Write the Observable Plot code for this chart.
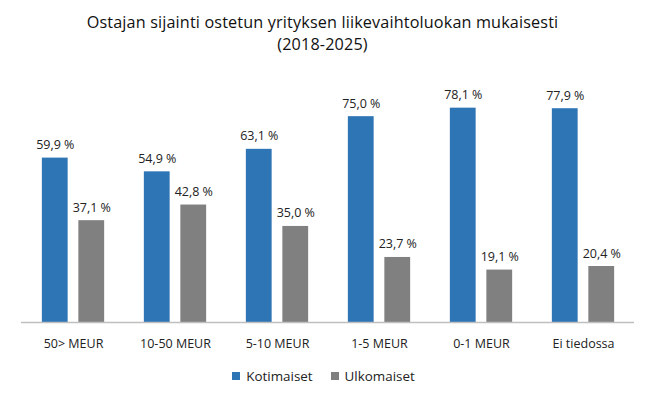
<!DOCTYPE html>
<html><head><meta charset="utf-8">
<script src="https://cdn.jsdelivr.net/npm/d3@7"></script>
<script src="https://cdn.jsdelivr.net/npm/@observablehq/plot@0.6"></script>
<style>
body{margin:0;background:#fff;font-family:"Open Sans",sans-serif;color:#1a1a1a;}
#wrap{width:645px;}
#title{height:60px;box-sizing:border-box;padding-top:11px;text-align:center;font-size:16.2px;line-height:22px;color:#111;letter-spacing:0.15px;}
#legend{display:flex;justify-content:center;gap:18px;font-size:13.4px;color:#222;height:28px;align-items:center;margin-left:2px;}
.sw{display:inline-block;width:8px;height:8px;margin-right:6px;vertical-align:middle;position:relative;top:-1px;}
svg{display:block;}
</style></head><body>
<div id="wrap">
<div id="title">Ostajan sijainti ostetun yrityksen liikevaihtoluokan mukaisesti<br>(2018-2025)</div>
<div id="chart"></div>
<div id="legend"></div>
</div>
<script>
const categories = ["50> MEUR", "10-50 MEUR", "5-10 MEUR", "1-5 MEUR", "0-1 MEUR", "Ei tiedossa"];
const kotimaiset = [59.9, 54.9, 63.1, 75.0, 78.1, 77.9];
const ulkomaiset = [37.1, 42.8, 35.0, 23.7, 19.1, 20.4];
const seriesNames = ["Kotimaiset", "Ulkomaiset"];
const seriesColors = ["#2E75B6", "#808080"];

const fmt = v => v.toFixed(1).replace(".", ",") + " %";
const dataK = categories.map((c, i) => ({cat: c, value: kotimaiset[i], series: seriesNames[0]}));
const dataU = categories.map((c, i) => ({cat: c, value: ulkomaiset[i], series: seriesNames[1]}));

const off = 18.25, inset = 38.1;
const plot = Plot.plot({
  width: 645,
  height: 302,
  marginLeft: 21,
  marginRight: 11,
  marginTop: 15,
  marginBottom: 40,
  style: {fontFamily: '"Open Sans", sans-serif', fontSize: "12.5px", color: "#222", background: "#fff"},
  x: {domain: categories, padding: 0, label: null, tickSize: 0, tickPadding: 17},
  y: {domain: [0, 90], axis: null},
  color: {domain: seriesNames, range: seriesColors},
  marks: [
    Plot.barY(dataK, {x: "cat", y: "value", fill: "series", dx: -off, insetLeft: inset, insetRight: inset}),
    Plot.barY(dataU, {x: "cat", y: "value", fill: "series", dx: off, insetLeft: inset, insetRight: inset}),
    Plot.text(dataK, {x: "cat", y: "value", text: d => fmt(d.value), dx: -off, dy: -9, lineAnchor: "bottom", fill: "#222", fontSize: 12.5}),
    Plot.text(dataU, {x: "cat", y: "value", text: d => fmt(d.value), dx: off, dy: -9, lineAnchor: "bottom", fill: "#222", fontSize: 12.5}),
    Plot.ruleY([0], {stroke: "#BFBFBF", strokeWidth: 1.5})
  ]
});
document.getElementById("chart").appendChild(plot);

const leg = document.getElementById("legend");
seriesNames.forEach((s, i) => {
  const item = document.createElement("span");
  item.innerHTML = `<span class="sw" style="background:${seriesColors[i]}"></span>${s}`;
  leg.appendChild(item);
});
</script>
</body></html>
